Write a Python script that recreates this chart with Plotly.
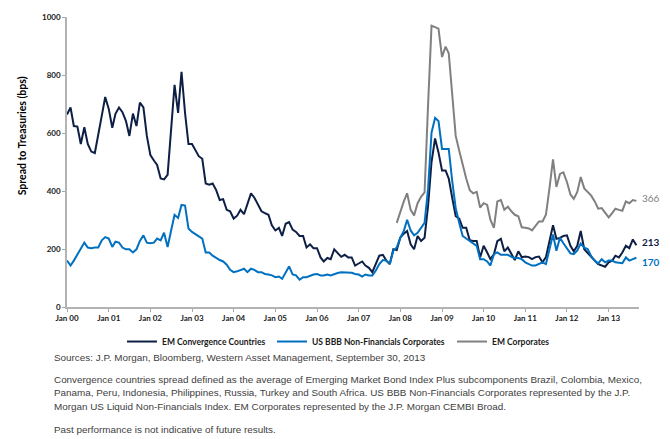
import pandas as pd
import plotly.graph_objects as go

# ---------------- data (monthly, Jan 2000 - Sep 2013) ----------------
em_convergence = [
    664, 688, 624, 622, 562, 620, 562, 536, 531, 601, 660, 724,   # 2000
    683, 618, 666, 688, 672, 641, 590, 667, 624, 705, 688, 590,   # 2001
    524, 505, 490, 443, 440, 456, 601, 766, 669, 811, 669, 562,   # 2002
    562, 539, 520, 511, 426, 422, 426, 403, 369, 372, 335, 330,   # 2003
    305, 315, 335, 320, 352, 392, 377, 352, 330, 324, 318, 282,   # 2004
    264, 273, 245, 287, 293, 267, 259, 245, 245, 205, 216, 203,   # 2005
    203, 171, 157, 169, 165, 199, 185, 173, 180, 171, 171, 143,   # 2006
    150, 157, 143, 135, 120, 148, 177, 180, 160, 148, 199, 196,   # 2007
    239, 253, 262, 216, 199, 245, 228, 239, 350, 500, 581, 533,   # 2008
    471, 471, 443, 375, 313, 305, 273, 273, 230, 228, 228, 171,   # 2009
    211, 188, 165, 182, 227, 235, 192, 205, 183, 162, 192, 172,   # 2010
    174, 172, 165, 172, 174, 154, 172, 227, 282, 235, 238, 245,   # 2011
    247, 211, 192, 211, 262, 199, 185, 171, 160, 148, 143, 139,   # 2012
    154, 160, 177, 171, 188, 211, 203, 233, 213,                  # 2013
]
us_bbb = [
    160, 143, 160, 182, 199, 222, 205, 203, 205, 205, 230, 241,   # 2000
    236, 207, 225, 222, 205, 199, 199, 188, 199, 228, 247, 222,   # 2001
    220, 222, 236, 230, 256, 207, 262, 318, 307, 352, 350, 271,   # 2002
    259, 250, 245, 236, 188, 188, 177, 169, 162, 157, 146, 128,   # 2003
    120, 123, 128, 132, 120, 132, 128, 120, 120, 114, 112, 109,   # 2004
    103, 105, 97, 120, 140, 112, 109, 94, 103, 103, 109, 112,     # 2005
    114, 109, 109, 112, 109, 114, 117, 120, 120, 120, 118, 114,   # 2006
    112, 105, 112, 109, 109, 126, 148, 162, 160, 148, 194, 205,   # 2007
    239, 262, 301, 264, 247, 256, 273, 290, 409, 601, 652, 641,   # 2008
    545, 545, 545, 432, 341, 290, 245, 236, 228, 219, 211, 165,   # 2009
    165, 157, 143, 182, 188, 180, 180, 180, 173, 169, 169, 165,   # 2010
    154, 148, 143, 143, 148, 154, 148, 205, 250, 194, 239, 220,   # 2011
    200, 185, 182, 195, 219, 205, 200, 175, 160, 150, 165, 154,   # 2012
    160, 160, 154, 152, 151, 171, 160, 165, 170,                  # 2013
]
em_corporates_start = "2007-12-01"
em_corporates = [
    290,                                                          # Dec 2007
    330, 364, 392, 335, 316, 358, 380, 395, 700, 970, 965, 960,   # 2008
    862, 898, 875, 740, 590, 539, 488, 443, 403, 392, 397, 343,   # 2009
    358, 352, 301, 273, 364, 369, 335, 346, 330, 318, 313, 275,   # 2010
    273, 271, 264, 278, 295, 295, 318, 409, 509, 414, 459, 464,   # 2011
    431, 388, 373, 397, 448, 409, 395, 384, 364, 339, 341, 324,   # 2012
    309, 324, 339, 335, 332, 364, 358, 369, 366,                  # 2013
]
series_names = ["EM Convergence Countries", "US BBB Non-Financials Corporates", "EM Corporates"]
series_colors = ["#0d1f45", "#0070c0", "#808080"]
y_ticks = [0, 200, 400, 600, 800, 1000]
y_title = "Spread to Treasuries (bps)"

dates_main = pd.date_range("2000-01-01", periods=len(em_convergence), freq="MS")
dates_corp = pd.date_range(em_corporates_start, periods=len(em_corporates), freq="MS")

CHART_FONT = "Lato"
FOOT_FONT = "Liberation Sans, Arial"

fig = go.Figure()
series = [
    (dates_main, em_convergence, "legend"),
    (dates_main, us_bbb, "legend2"),
    (dates_corp, em_corporates, "legend3"),
]
for (x, y, lg), name, col in zip(series, series_names, series_colors):
    fig.add_trace(go.Scatter(x=x, y=y, mode="lines", name=name, legend=lg,
                             showlegend=True, line=dict(color=col, width=2)))

# end-of-series value labels
end_labels = [
    (dates_corp[-1], em_corporates[-1], series_colors[2], False, 3),
    (dates_main[-1], em_convergence[-1], series_colors[0], True, 3),
    (dates_main[-1], us_bbb[-1], series_colors[1], True, -4),
]
for x, y, col, bold, ys in end_labels:
    txt = f"<b>{y}</b>" if bold else f"{y}"
    fig.add_annotation(x=x, y=y, text=txt, showarrow=False, xanchor="left",
                       yanchor="middle", xshift=4, yshift=ys,
                       font=dict(family=CHART_FONT, size=10, color=col))

# plot area geometry (px)
L, R, T, B = 67, 31, 13, 132
W, H = 670 - L - R, 439 - T - B
def px(xp):
    return (xp - L) / W
def py(yp):
    return (T + H - yp) / H

legend_common = dict(orientation="h", xanchor="left", yanchor="middle",
                     bgcolor="rgba(0,0,0,0)", borderwidth=0, visible=True,
                     font=dict(family=CHART_FONT, size=8.5, color="#1a1a1a", weight="bold"),
                     itemwidth=30, tracegroupgap=0)
fig.update_layout(
    showlegend=True,
    legend=dict(x=px(122), y=py(342), **legend_common),
    legend2=dict(x=px(272), y=py(342), **legend_common),
    legend3=dict(x=px(452), y=py(342), **legend_common),
)

# y-axis title (placed like the original, above the plot centre)
fig.add_annotation(xref="paper", yref="paper", x=px(22), y=py(134), text=y_title,
                   textangle=-90, showarrow=False, xanchor="center", yanchor="middle",
                   font=dict(family=CHART_FONT, size=10.5, color="#000000", weight="bold"))

# footnotes
foot = [
    (358, "Sources: J.P. Morgan, Bloomberg, Western Asset Management, September 30, 2013"),
    (380, "Convergence countries spread defined as the average of Emerging Market Bond Index Plus subcomponents Brazil, Colombia, Mexico,"),
    (394, "Panama, Peru, Indonesia, Philippines, Russia, Turkey and South Africa. US BBB Non-Financials Corporates represented by the J.P."),
    (408, "Morgan US Liquid Non-Financials Index. EM Corporates represented by the J.P. Morgan CEMBI Broad."),
    (431, "Past performance is not indicative of future results."),
]
for yp, txt in foot:
    fig.add_annotation(xref="paper", yref="paper", x=px(52), y=py(yp), text=txt,
                       showarrow=False, xanchor="left", yanchor="middle",
                       font=dict(family=FOOT_FONT, size=9.9, color="#404040"))

fig.update_layout(
    width=670, height=439,
    margin=dict(l=L, r=R, t=T, b=B),
    paper_bgcolor="white", plot_bgcolor="white",
    font=dict(family=CHART_FONT, color="#1a1a1a"),
    xaxis=dict(type="date", range=["2000-01-01", "2013-09-24"],
               tick0="2000-01-01", dtick="M12", tickformat="%b %y",
               ticks="outside", ticklen=3, tickcolor="#a6a6a6", tickwidth=1,
               showline=True, linecolor="#b3b3b3", linewidth=1.5,
               showgrid=False, zeroline=False,
               tickfont=dict(family=CHART_FONT, size=8, color="#1a1a1a", weight="bold")),
    yaxis=dict(range=[0, 1000], tickvals=y_ticks,
               ticks="outside", ticklen=3, tickcolor="#a6a6a6", tickwidth=1,
               showline=True, linecolor="#b3b3b3", linewidth=1.5,
               showgrid=False, zeroline=False,
               tickfont=dict(family=CHART_FONT, size=8, color="#1a1a1a", weight="bold")),
)

fig.write_html("out.html")
